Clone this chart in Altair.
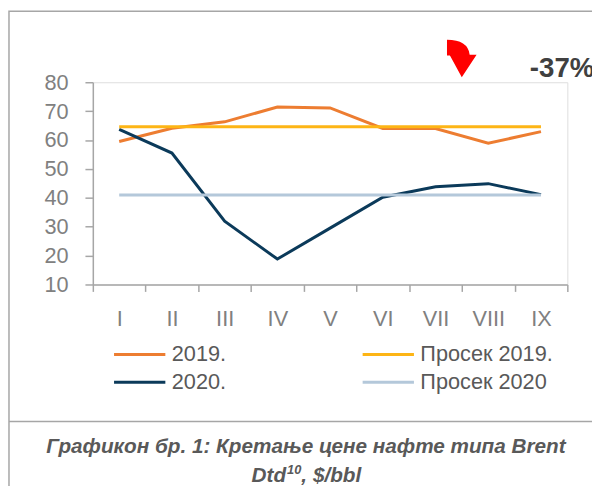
import altair as alt
import pandas as pd

months = ["I", "II", "III", "IV", "V", "VI", "VII", "VIII", "IX"]
price_2019 = [59.5, 64.1, 66.3, 71.4, 71.1, 64.0, 64.0, 58.9, 62.9]
price_2020 = [63.7, 55.5, 31.9, 18.8, 29.5, 40.2, 43.8, 44.9, 41.1]
avg_2019 = 64.6
avg_2020 = 41.0
series_names = ["2019.", "2020.", "Просек 2019.", "Просек 2020"]
series_colors = ["#ED7D31", "#0B3A5A", "#FDB515", "#B4C8DA"]
caption_line1 = "Графикон бр. 1: Кретање цене нафте типа Brent"
caption_line2 = ["Dtd", "10", ", $/bbl"]
change_label = "-37%"

rows = []
for m, a, b in zip(months, price_2019, price_2020):
    rows.append({"month": m, "value": a, "series": "2019."})
    rows.append({"month": m, "value": b, "series": "2020."})
    rows.append({"month": m, "value": avg_2019, "series": "Просек 2019."})
    rows.append({"month": m, "value": avg_2020, "series": "Просек 2020"})
df = pd.DataFrame(rows)

W, H = 481, 205
FONT = "Liberation Sans"
CAP = 21

lines = alt.Chart(df).mark_line(strokeWidth=3).encode(
    x=alt.X("month:N", sort=months, bandPosition=0.5,
            scale=alt.Scale(type="band", paddingInner=0, paddingOuter=0),
            axis=alt.Axis(title=None, labelAngle=0, tickBand="extent", tickSize=7,
                          labelPadding=18, labelFontSize=22, labelColor="#808080",
                          labelFont=FONT, domainColor="#A6A6A6", tickColor="#A6A6A6",
                          domainWidth=1.5, tickWidth=1.5, grid=False)),
    y=alt.Y("value:Q", scale=alt.Scale(domain=[10, 80], nice=False, zero=False),
            axis=alt.Axis(title=None, values=[10, 20, 30, 40, 50, 60, 70, 80], tickSize=8,
                          labelPadding=17, labelFontSize=22, labelColor="#808080",
                          labelFont=FONT, domainColor="#A6A6A6", tickColor="#A6A6A6",
                          domainWidth=1.5, tickWidth=1.5, grid=False)),
    color=alt.Color("series:N", sort=series_names,
                    scale=alt.Scale(domain=series_names, range=series_colors),
                    legend=alt.Legend(title=None, orient="none", legendX=20, legendY=265,
                                      direction="vertical", columns=2, columnPadding=136,
                                      rowPadding=6, clipHeight=22, symbolType="stroke",
                                      symbolSize=2704, symbolStrokeWidth=3,
                                      labelFontSize=22, labelFont=FONT,
                                      labelColor="#595959", labelOffset=5, padding=0)),
)

one = pd.DataFrame({"k": [0]})

border = alt.Chart(one).mark_rect(fill=None, stroke="#A6A6A6", strokeWidth=1.5).encode(
    x=alt.value(-85), x2=alt.value(560), y=alt.value(-72), y2=alt.value(460))
divider = alt.Chart(one).mark_rule(stroke="#A6A6A6", strokeWidth=1.5).encode(
    x=alt.value(-85), x2=alt.value(560), y=alt.value(344))

cap_style = dict(font=FONT, fontWeight="bold", fontStyle="italic", color="#595959",
                 baseline="alphabetic")
cap1 = alt.Chart(pd.DataFrame({"t": [caption_line1]})).mark_text(
    fontSize=CAP, align="center", **cap_style).encode(
    text="t:N", x=alt.value(216), y=alt.value(376))

X2 = 216 - (1.666 + 0.69 + 2.89) * CAP / 2
cap2a = alt.Chart(pd.DataFrame({"t": [caption_line2[0]]})).mark_text(
    fontSize=CAP, align="left", **cap_style).encode(
    text="t:N", x=alt.value(X2), y=alt.value(405))
cap2b = alt.Chart(pd.DataFrame({"t": [caption_line2[1]]})).mark_text(
    fontSize=CAP * 0.62, align="left", **cap_style).encode(
    text="t:N", x=alt.value(X2 + 1.666 * CAP + 1), y=alt.value(397))
cap2c = alt.Chart(pd.DataFrame({"t": [caption_line2[2]]})).mark_text(
    fontSize=CAP, align="left", **cap_style).encode(
    text="t:N", x=alt.value(X2 + 1.666 * CAP + 0.69 * CAP + 1), y=alt.value(405))

change = alt.Chart(pd.DataFrame({"t": [change_label]})).mark_text(
    font=FONT, fontSize=28, fontWeight="bold", color="#404040", align="left",
    baseline="alphabetic").encode(text="t:N", x=alt.value(443), y=alt.value(-5))

arrow_path = "M -0.75 -0.95 Q 0.3 -0.95 0.4 -0.2 L 0.75 -0.2 L 0 0.95 L -0.6 -0.15 L -0.75 -0.15 Z"
arrow = alt.Chart(one).mark_point(shape=arrow_path, filled=True, fill="#FF0000",
                                  strokeOpacity=0, opacity=1, size=1600).encode(
    x=alt.value(374), y=alt.value(-24))

chart = alt.layer(border, divider, lines, cap1, cap2a, cap2b, cap2c, change, arrow).properties(
    width=W, height=H,
    padding={"left": 86, "top": 72, "right": 25, "bottom": 201},
    autosize=alt.AutoSizeParams(type="none"),
).configure_view(stroke=None).configure(background="white")

chart.save("out.html", embed_options={"renderer": "svg", "actions": False})
